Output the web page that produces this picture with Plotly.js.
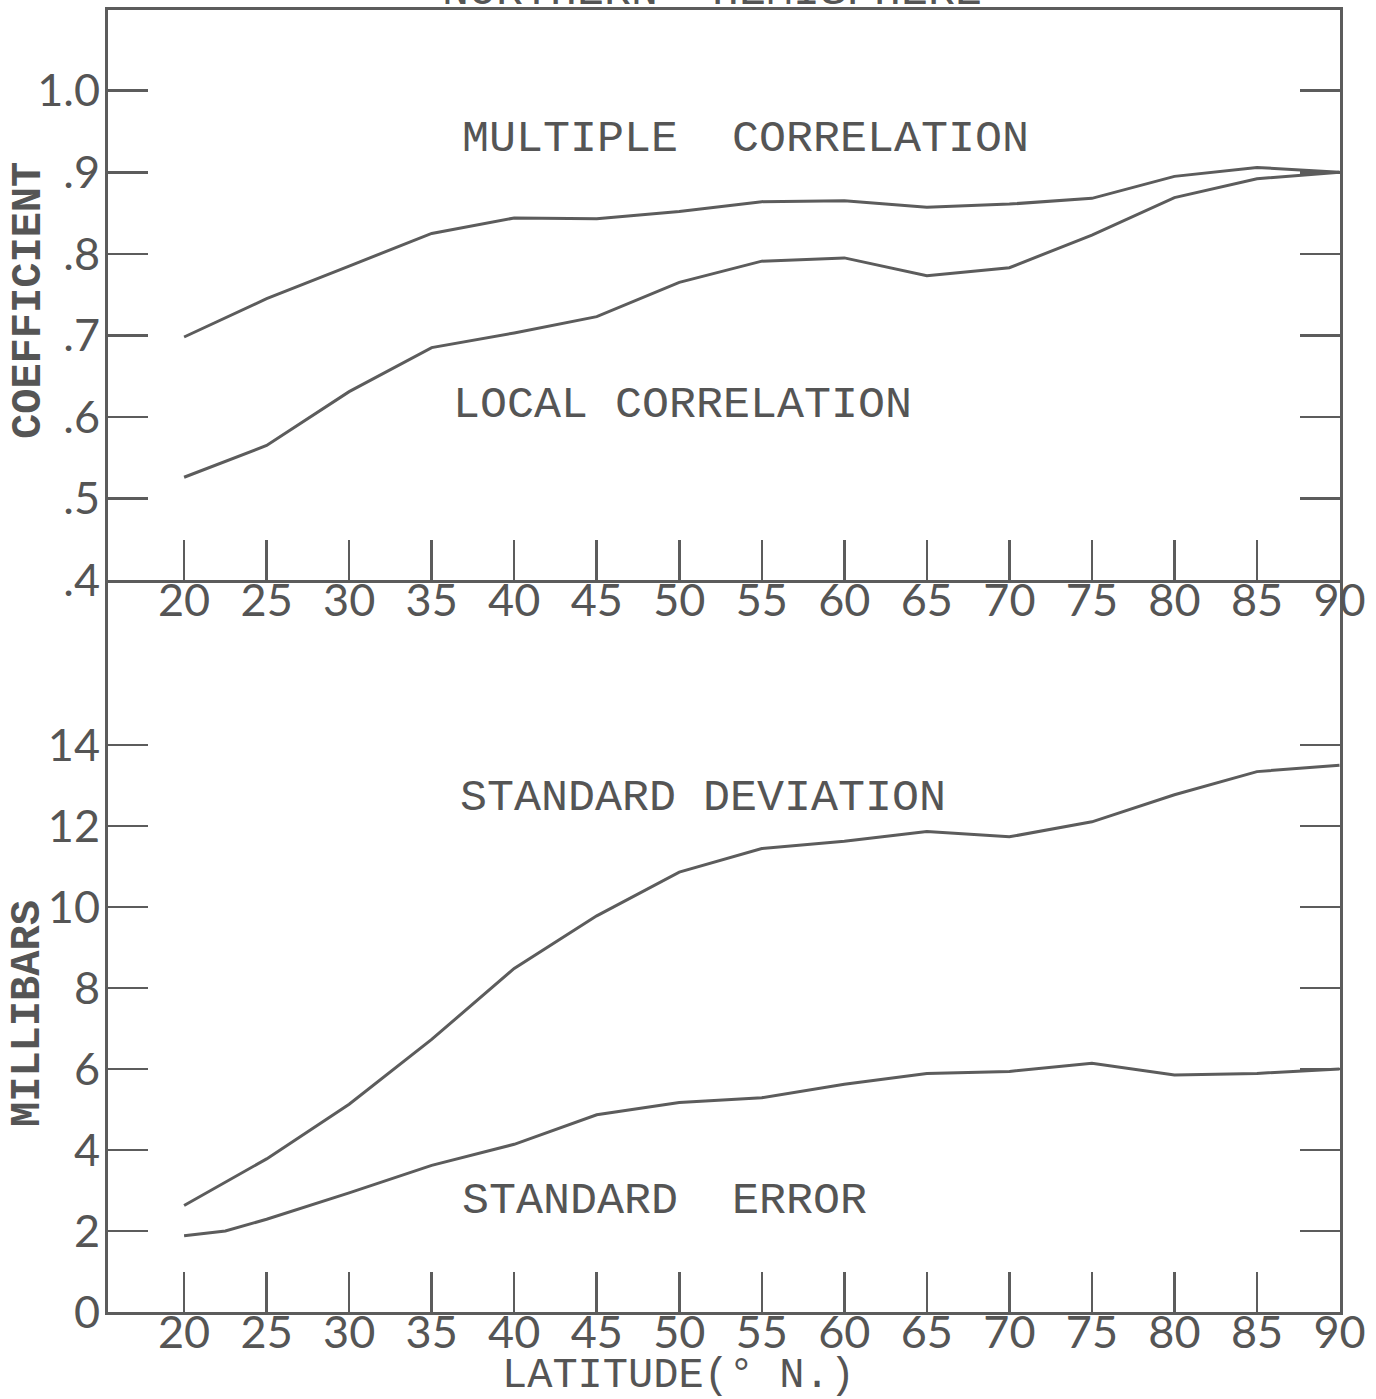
<!DOCTYPE html>
<html>
<head>
<meta charset="utf-8">
<script src="https://cdn.plot.ly/plotly-3.0.1.min.js"></script>
<style>html,body{margin:0;padding:0;background:#fff;}#chart{width:1376px;height:1399px;}</style>
</head>
<body>
<div id="chart"></div>
<script>
// ---- data ----
const latitude = [20, 25, 30, 35, 40, 45, 50, 55, 60, 65, 70, 75, 80, 85, 90];
const multipleCorrelation = [0.698, 0.745, 0.785, 0.825, 0.844, 0.843, 0.852, 0.864, 0.865, 0.857, 0.861, 0.868, 0.895, 0.906, 0.900];
const localCorrelation    = [0.526, 0.565, 0.631, 0.685, 0.703, 0.723, 0.765, 0.791, 0.795, 0.773, 0.783, 0.823, 0.869, 0.892, 0.900];
const standardDeviation   = [2.63, 3.78, 5.13, 6.73, 8.48, 9.78, 10.86, 11.44, 11.62, 11.86, 11.73, 12.10, 12.77, 13.34, 13.50];
const latitudeSE = [20, 22.5, 25, 30, 35, 40, 45, 50, 55, 60, 65, 70, 75, 80, 85, 90];
const standardError = [1.88, 2.00, 2.29, 2.94, 3.62, 4.14, 4.87, 5.17, 5.29, 5.62, 5.89, 5.94, 6.14, 5.85, 5.89, 6.00];

const xTickVals = [20, 25, 30, 35, 40, 45, 50, 55, 60, 65, 70, 75, 80, 85, 90];
const coefTickVals = [0.4, 0.5, 0.6, 0.7, 0.8, 0.9, 1.0];
const coefTickText = ['.4', '.5', '.6', '.7', '.8', '.9', '1.0'];
const mbTickVals = [0, 2, 4, 6, 8, 10, 12, 14];

const INK = '#5c5c5c';
const lineStyle = {color: INK, width: 3};

const traces = [
  {x: latitude, y: multipleCorrelation, xaxis: 'x2', yaxis: 'y2', mode: 'lines', line: lineStyle, name: 'Multiple correlation'},
  {x: latitude, y: localCorrelation, xaxis: 'x2', yaxis: 'y2', mode: 'lines', line: lineStyle, name: 'Local correlation'},
  {x: latitude, y: standardDeviation, xaxis: 'x', yaxis: 'y', mode: 'lines', line: lineStyle, name: 'Standard deviation'},
  {x: latitudeSE, y: standardError, xaxis: 'x', yaxis: 'y', mode: 'lines', line: lineStyle, name: 'Standard error'}
];

const tickFont = {family: 'Lato, "Liberation Sans", sans-serif', size: 45, color: '#555'};
const labelFont = {family: '"Liberation Mono", "DejaVu Sans Mono", monospace', size: 45, color: '#555'};
const axTitleFont = {family: '"Liberation Mono", "DejaVu Sans Mono", monospace', size: 42, color: '#555', weight: 'bold'};

const XR = [15.39, 90.03];
const split = 0.5622;

function xAxis(anchor, mirror) {
  return {
    anchor: anchor, domain: [0, 1], range: XR,
    tickmode: 'array', tickvals: xTickVals,
    ticks: 'inside', ticklen: 40, tickwidth: 2.5, tickcolor: INK,
    ticklabelstandoff: -21,
    showline: true, linewidth: 3, linecolor: INK, mirror: mirror,
    showgrid: false, zeroline: false, tickfont: tickFont, fixedrange: true
  };
}

function yAxis(anchor, domain, range, vals, text) {
  const ax = {
    anchor: anchor, domain: domain, range: range,
    tickmode: 'array', tickvals: vals,
    ticks: 'inside', ticklen: 40, tickwidth: 2.5, tickcolor: INK,
    ticklabelstandoff: -4,
    showline: true, linewidth: 3, linecolor: INK, mirror: 'ticks',
    showgrid: false, zeroline: false, tickfont: tickFont, fixedrange: true
  };
  if (text) ax.ticktext = text;
  return ax;
}

const layout = {
  width: 1376, height: 1399,
  margin: {l: 108, r: 36, t: 10, b: 87, pad: 0},
  paper_bgcolor: '#ffffff', plot_bgcolor: '#ffffff',
  showlegend: false,
  xaxis: xAxis('y', false),
  xaxis2: xAxis('y2', true),
  yaxis: yAxis('x', [0, split], [0, 18.07], mbTickVals, null),
  yaxis2: yAxis('x2', [split, 1], [0.4, 1.099], coefTickVals, coefTickText),
  annotations: [
    {text: 'NORTHERN  HEMISPHERE', xref: 'paper', yref: 'paper', x: 0.49, y: 1.0138, xanchor: 'center', yanchor: 'middle', showarrow: false, font: labelFont},
    {text: 'MULTIPLE  CORRELATION', xref: 'paper', yref: 'paper', x: (745 - 108) / 1232, y: (1312 - 140) / 1302, xanchor: 'center', yanchor: 'middle', showarrow: false, font: labelFont},
    {text: 'LOCAL CORRELATION', xref: 'paper', yref: 'paper', x: (682 - 108) / 1232, y: (1312 - 405) / 1302, xanchor: 'center', yanchor: 'middle', showarrow: false, font: labelFont},
    {text: 'STANDARD DEVIATION', xref: 'paper', yref: 'paper', x: (703 - 108) / 1232, y: (1312 - 798) / 1302, xanchor: 'center', yanchor: 'middle', showarrow: false, font: labelFont},
    {text: 'STANDARD  ERROR', xref: 'paper', yref: 'paper', x: (664 - 108) / 1232, y: (1312 - 1201) / 1302, xanchor: 'center', yanchor: 'middle', showarrow: false, font: labelFont},
    {text: 'COEFFICIENT', xref: 'paper', yref: 'paper', x: (29 - 108) / 1232, y: (1312 - 301) / 1302, xanchor: 'center', yanchor: 'middle', textangle: -90, showarrow: false, font: axTitleFont},
    {text: 'MILLIBARS', xref: 'paper', yref: 'paper', x: (28 - 108) / 1232, y: (1312 - 1014) / 1302, xanchor: 'center', yanchor: 'middle', textangle: -90, showarrow: false, font: axTitleFont},
    {text: 'LATITUDE(° N.)', xref: 'paper', yref: 'paper', x: (678 - 108) / 1232, y: (1312 - 1376) / 1302, xanchor: 'center', yanchor: 'middle', showarrow: false, font: {family: labelFont.family, size: 42, color: '#555'}}
  ]
};

Plotly.newPlot('chart', traces, layout, {displayModeBar: false, staticPlot: true});
</script>
</body>
</html>
